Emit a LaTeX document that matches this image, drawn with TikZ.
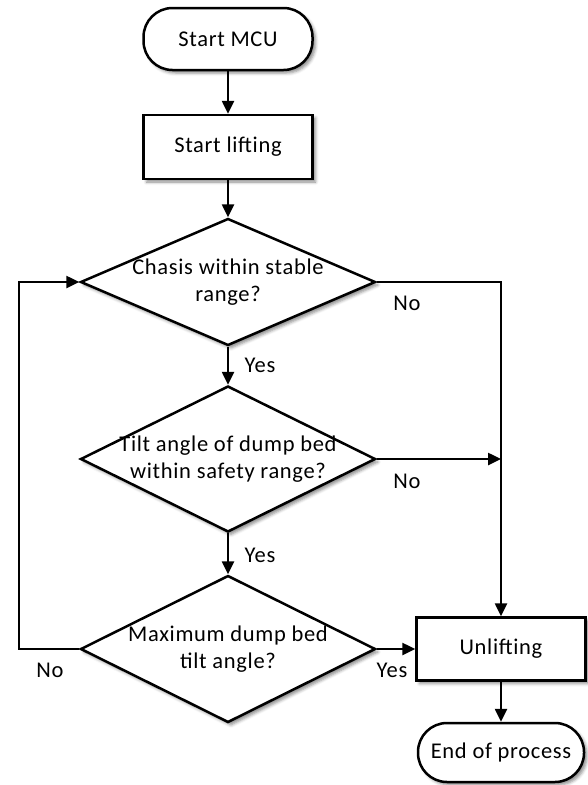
\documentclass[tikz,border=0pt]{standalone}
\usepackage{fontspec}
\setmainfont{Carlito}[LetterSpace=3]
\usetikzlibrary{shapes.geometric,arrows.meta,shadows.blur}

\begin{document}
\begin{tikzpicture}[x=10pt,y=10pt,line width=2.5pt,
    >={Triangle[length=13pt,width=12pt]},
    every node/.style={font=\fontsize{22.5}{27}\selectfont,align=center},
    shade/.style={blur shadow={shadow xshift=3pt,shadow yshift=-3pt,shadow blur radius=3pt,shadow opacity=45}},
    term/.style={draw,fill=white,shade,rounded corners=29pt,minimum width=169pt,minimum height=62pt},
    proc/.style={draw,fill=white,shade,rectangle,minimum width=169pt,minimum height=64pt},
    dec/.style={draw,fill=white,shade,diamond,aspect=2.2,inner sep=-12pt,minimum width=295pt}]
    \useasboundingbox (0,0) rectangle (58.7,-78.5);
    \node [term] (start) at (22.8,-3.9) {Start MCU};
    \node [proc] (lift) at (22.8,-14.7) {Start lifting};
    \node [dec,minimum height=127pt] (chasis) at (22.8,-28.2) {Chasis within stable\\range?};
    \node [dec,minimum height=146pt] (tilt) at (22.8,-45.9) {Tilt angle of dump bed\\within safety range?};
    \node [dec,minimum height=147pt] (maxtilt) at (22.8,-64.9) {Maximum dump bed\\tilt angle?};
    \node [proc,minimum height=63pt] (unlift) at (50.1,-64.9) {Unlifting};
    \node [term,minimum width=166pt,minimum height=59pt] (finish) at (50.1,-75.25) {End of process};
    \coordinate (loop) at (1.9,0);
    \draw [->] (start) -- (lift);
    \draw [->] (lift) -- (chasis);
    \draw [->] (chasis) -- (tilt);
    \draw [->] (tilt) -- (maxtilt);
    \draw [->] (chasis.east) -| (unlift.north);
    \draw [->] (tilt.east) -- (tilt.east -| unlift.north);
    \draw [->] (maxtilt.east) -- (unlift.west);
    \draw [->] (maxtilt.west) -- (maxtilt.west -| loop) |- (chasis.west);
    \draw [->] (unlift) -- (finish);
    \node (no1) at (40.7,-30.3) {No};
    \node (yes1) at (26.0,-36.5) {Yes};
    \node (no2) at (40.7,-48.1) {No};
    \node (yes2) at (26.0,-55.5) {Yes};
    \node (yes3) at (39.2,-67.0) {Yes};
    \node (no3) at (5.0,-67.0) {No};
\end{tikzpicture}
\end{document}
